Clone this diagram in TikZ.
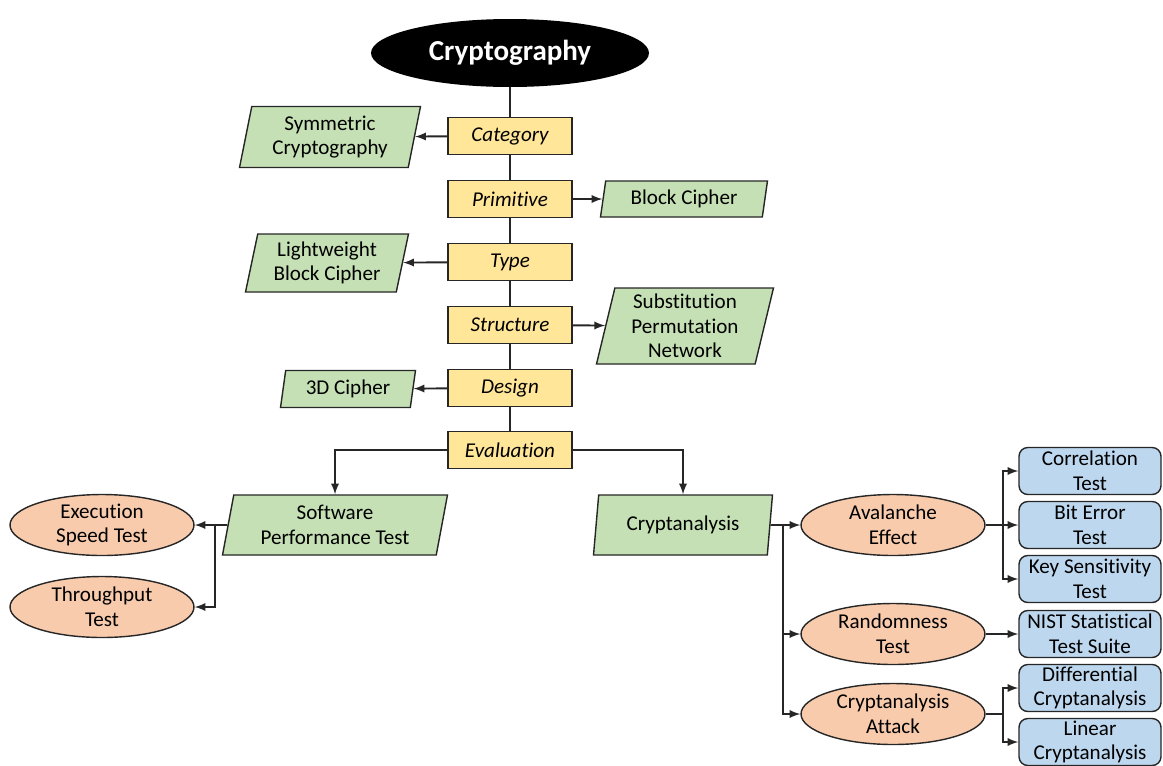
\documentclass[tikz,border=0pt]{standalone}
\usetikzlibrary{arrows}
\usetikzlibrary{shapes.geometric}
\usepackage{fontspec}
\setmainfont{Carlito}[Ligatures=NoCommon]
\definecolor{boxyellow}{HTML}{FFE699}
\definecolor{boxgreen}{HTML}{C5E0B4}
\definecolor{boxorange}{HTML}{F8CBAD}
\definecolor{boxblue}{HTML}{BDD7EE}
\tikzset{
  level/.style={draw=black!85, line width=0.8pt, fill=boxyellow, minimum width=2.48cm, minimum height=0.74cm, inner sep=0pt, font=\fontsize{12}{14}\selectfont\itshape},
  choice/.style={draw=black!85, line width=0.8pt, fill=boxgreen, trapezium, trapezium left angle=74, trapezium right angle=106, trapezium stretches body, inner sep=0pt, align=center},
  test/.style={draw=black!85, line width=0.8pt, fill=boxorange, ellipse, minimum width=3.68cm, minimum height=1.22cm, inner sep=0pt, align=center},
  leaf/.style={draw=black!85, line width=0.8pt, fill=boxblue, rounded corners=5pt, minimum width=2.84cm, minimum height=0.94cm, inner sep=0pt, align=center},
  link/.style={line width=1.1pt, black!85},
}
\begin{document}
\begin{tikzpicture}[x=0.02cm, y=-0.02cm, >=latex, font=\fontsize{12}{14}\selectfont]
      \useasboundingbox (0, 0) rectangle (1163, 765);

      \node [ellipse, fill=black, minimum width=5.56cm, minimum height=1.36cm, text=white, font=\fontsize{16.5}{18}\selectfont\bfseries] (title) at (510, 53) {Cryptography};

      \node [level] (cat) at (510, 136) {Category};
      \node [level] (prim) at (510, 199) {Primitive};
      \node [level] (type) at (510, 262) {Type};
      \node [level] (struct) at (510, 325) {Structure};
      \node [level] (design) at (510, 388) {Design};
      \node [level] (eval) at (510, 450) {Evaluation};

      \node [choice, minimum width=3.62cm, minimum height=1.22cm] (sym) at (330, 137) {Symmetric\\Cryptography};
      \node [choice, minimum width=3.34cm, minimum height=0.72cm] (block) at (684, 199) {Block Cipher};
      \node [choice, minimum width=3.26cm, minimum height=1.16cm] (light) at (327, 263) {Lightweight\\Block Cipher};
      \node [choice, minimum width=3.54cm, minimum height=1.52cm] (spn) at (685, 326) {Substitution\\Permutation\\Network};
      \node [choice, minimum width=2.7cm, minimum height=0.74cm] (cipher) at (348, 389) {3D Cipher};
      \node [choice, minimum width=4.5cm, minimum height=1.2cm] (soft) at (335, 525) {Software\\Performance Test};
      \node [choice, minimum width=3.58cm, minimum height=1.2cm] (crypt) at (683, 525) {Cryptanalysis};

      \node [test] (exec) at (102, 525) {Execution\\Speed Test};
      \node [test] (thru) at (102, 607) {Throughput\\Test};
      \node [test] (aval) at (893, 525) {Avalanche\\Effect};
      \node [test] (rand) at (893, 634) {Randomness\\Test};
      \node [test] (attack) at (893, 714) {Cryptanalysis\\Attack};

      \node [leaf] (corr) at (1090, 471) {Correlation\\Test};
      \node [leaf] (bit) at (1090, 525) {Bit Error\\Test};
      \node [leaf] (key) at (1090, 579) {Key Sensitivity\\Test};
      \node [leaf] (nist) at (1090, 634) {NIST Statistical\\Test Suite};
      \node [leaf] (diff) at (1090, 688) {Differential\\Cryptanalysis};
      \node [leaf] (lin) at (1090, 742) {Linear\\Cryptanalysis};

      \coordinate (sbr) at (215, 525);
      \coordinate (cbr) at (783, 525);
      \coordinate (abr) at (1003, 525);
      \coordinate (kbr) at (1003, 714);

      % main column
      \draw [link] (title) -- (cat) -- (prim) -- (type) -- (struct) -- (design) -- (eval);
      \draw [link, ->] (cat) -- (sym);
      \draw [link, ->] (prim) -- (block);
      \draw [link, ->] (type) -- (light);
      \draw [link, ->] (struct) -- (spn);
      \draw [link, ->] (design) -- (cipher);
      \draw [link, ->] (eval) -| (soft);
      \draw [link, ->] (eval) -| (crypt);

      % evaluation branches
      \draw [link, ->] (soft) -- (exec);
      \draw [link, ->] (sbr) |- (thru);
      \draw [link, ->] (crypt) -- (aval);
      \draw [link, ->] (cbr) |- (rand);
      \draw [link, ->] (cbr) |- (attack);
      \draw [link, ->] (aval) -- (bit);
      \draw [link, ->] (abr) |- (corr);
      \draw [link, ->] (abr) |- (key);
      \draw [link, ->] (rand) -- (nist);
      \draw [link] (attack) -- (kbr);
      \draw [link, ->] (kbr) |- (diff);
      \draw [link, ->] (kbr) |- (lin);
    \end{tikzpicture}
\end{document}
